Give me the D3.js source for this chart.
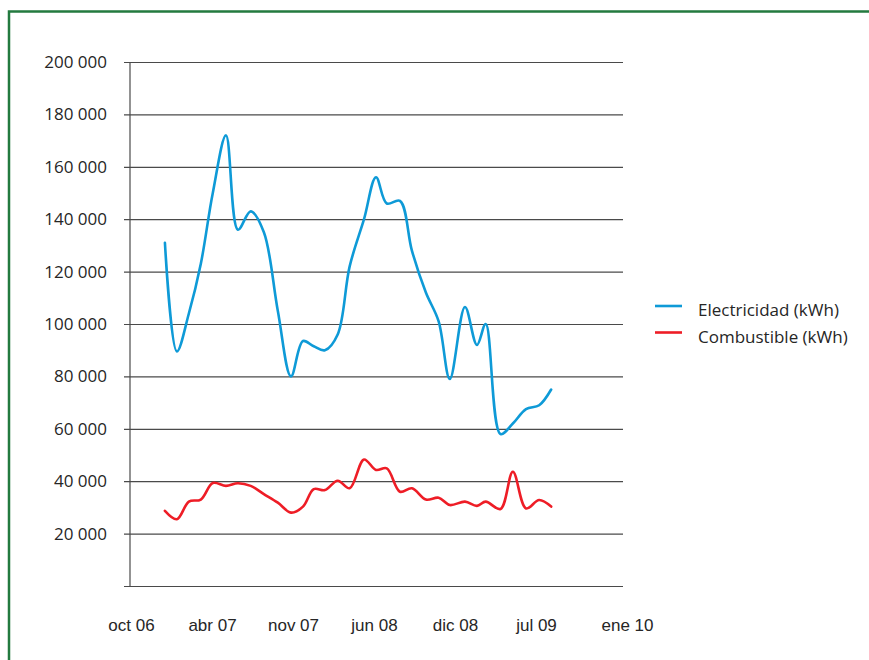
<!DOCTYPE html>
<html>
<head>
<meta charset="utf-8">
<script src="https://cdn.jsdelivr.net/npm/d3@7"></script>
<style>
  body { margin: 0; background: #fff; }
  svg { display: block; font-family: 'Open Sans', sans-serif; }
  .axis text { fill: #262626; font-size: 17px; }
  .grid line { stroke: #4a4a4a; stroke-width: 1.2; }
  .line { fill: none; stroke-width: 2.6; stroke-linejoin: round; stroke-linecap: round; }
</style>
</head>
<body>
<script>
// billing dates
const dates = [
  '2006-12-25', '2007-01-24', '2007-02-23', '2007-03-25', '2007-04-24', '2007-05-27',
  '2007-06-26', '2007-07-28', '2007-08-30', '2007-10-04', '2007-11-06', '2007-12-06',
  '2008-01-02', '2008-01-30', '2008-03-02', '2008-04-01', '2008-05-07', '2008-06-06',
  '2008-07-03', '2008-08-05', '2008-09-04', '2008-10-09', '2008-11-10', '2008-12-08',
  '2009-01-15', '2009-02-14', '2009-03-08', '2009-04-14', '2009-05-15', '2009-06-17',
  '2009-07-20', '2009-08-19'
]

const electricidad = [
  131000, 89500, 104000, 123000, 150000, 172000,
  136000, 143000, 135000, 105000, 80000, 93500,
  91500, 90000, 96000, 122000, 140000, 156000,
  146000, 147000, 128000, 112000, 101000, 79000,
  106500, 92000, 100000, 58000, 62000, 67500,
  69000, 75000
]

const combustible = [
  28700, 25500, 32200, 33000, 39300, 38200,
  39200, 38200, 35100, 31800, 28000, 30300,
  37000, 36600, 40200, 37300, 48300, 44300,
  44900, 36000, 37300, 33000, 33700, 30900,
  32200, 30600, 32200, 29400, 43600, 29600,
  32800, 30300
]

const tickDates = ['2006-10-01', '2007-04-22', '2007-11-11', '2008-06-01', '2008-12-21', '2009-07-12', '2010-01-31']
const tickLabels = ['oct 06', 'abr 07', 'nov 07', 'jun 08', 'dic 08', 'jul 09', 'ene 10']
const yTicks = [0, 20000, 40000, 60000, 80000, 100000, 120000, 140000, 160000, 180000, 200000]

const seriesNames = ['Electricidad (kWh)', 'Combustible (kWh)']
const seriesColors = ['#0e9ad7', '#ee1d26']

const width = 869
const height = 660
const parse = d3.timeParse('%Y-%m-%d')
const esFormat = d3.formatLocale({ decimal: ',', thousands: ' ', grouping: [3], currency: ['', ' €'] }).format(',')

const svg = d3.select('body').append('svg')
  .attr('width', width)
  .attr('height', height)

// outer green frame
svg.append('rect')
  .attr('x', 9)
  .attr('y', 11.5)
  .attr('width', 900)
  .attr('height', 700)
  .attr('fill', 'none')
  .attr('stroke', '#237a3f')
  .attr('stroke-width', 2.5)

const x = d3.scaleTime()
  .domain([parse(tickDates[0]), parse(tickDates[tickDates.length - 1])])
  .range([131, 617])
const y = d3.scaleLinear().domain([0, 200000]).range([586, 62])

const plotLeft = 130
const plotRight = 623

// horizontal gridlines (also draw the small tick stubs left of the axis)
svg.append('g')
  .attr('class', 'grid')
  .attr('transform', 'translate(' + plotRight + ',0)')
  .call(d3.axisLeft(y).tickValues(yTicks).tickSize(plotRight - 124).tickFormat(''))
  .call(g => g.select('.domain').remove())

// y labels
svg.append('g')
  .attr('class', 'axis')
  .attr('transform', 'translate(' + plotLeft + ',0)')
  .call(d3.axisLeft(y).tickValues(yTicks.slice(1)).tickSize(0).tickPadding(23).tickFormat(esFormat))
  .call(g => g.select('.domain').remove())
  .call(g => g.selectAll('text').attr('font-family', 'Open Sans'))

// y axis line
svg.append('line')
  .attr('x1', plotLeft).attr('x2', plotLeft)
  .attr('y1', y(200000)).attr('y2', y(0))
  .attr('stroke', '#4a4a4a')
  .attr('stroke-width', 1.2)

// x labels
svg.append('g')
  .attr('class', 'axis')
  .attr('transform', 'translate(0,' + y(0) + ')')
  .call(d3.axisBottom(x).tickValues(tickDates.map(parse)).tickSize(0).tickPadding(33)
    .tickFormat((d, i) => tickLabels[i]))
  .call(g => g.select('.domain').remove())
  .call(g => g.selectAll('.tick:last-of-type text').attr('dx', 10))

const line = d3.line()
  .x(d => x(d.date))
  .y(d => y(d.value))
  .curve(d3.curveCatmullRom.alpha(0.5))

const series = [electricidad, combustible].map(values =>
  values.map((v, i) => ({ date: parse(dates[i]), value: v })))

series.forEach((data, i) => {
  svg.append('path')
    .datum(data)
    .attr('class', 'line')
    .attr('stroke', seriesColors[i])
    .attr('d', line)
})

// legend
const legend = svg.append('g').attr('transform', 'translate(655,306)')
seriesNames.forEach((name, i) => {
  const row = legend.append('g').attr('transform', 'translate(0,' + (i * 26.5) + ')')
  row.append('line')
    .attr('x1', 0).attr('x2', 27)
    .attr('stroke', seriesColors[i])
    .attr('stroke-width', 2.6)
  row.append('text')
    .attr('x', 43)
    .attr('y', 10)
    .attr('fill', '#262626')
    .attr('font-size', '17px')
    .text(name)
})
</script>
</body>
</html>
